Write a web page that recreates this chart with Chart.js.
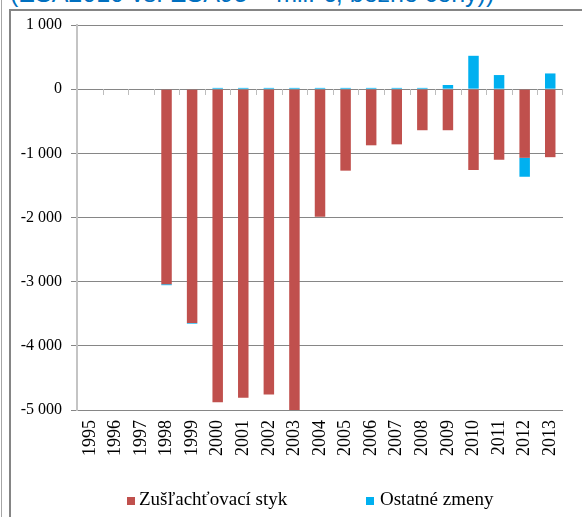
<!DOCTYPE html>
<html>
<head>
<meta charset="utf-8">
<script src="https://cdn.jsdelivr.net/npm/chart.js@4.4.1/dist/chart.umd.min.js"></script>
<style>
  body { margin: 0; background: #fff; }
  #wrap { position: relative; width: 582px; height: 517px; overflow: hidden; background: #fff; }
  #title { position: absolute; left: 10px; top: -19px; font: 25px "Liberation Sans", Arial, sans-serif; line-height: 25px; color: #0070c0; white-space: nowrap; }
  #edge { position: absolute; left: 1px; top: 0; width: 1px; height: 517px; background: #a6a6a6; }
  #frame { position: absolute; left: 9px; top: 9px; right: -5px; bottom: -5px; border-left: 2px solid #858585; border-top: 2px solid #858585; }
  canvas { position: absolute; left: 0; top: 0; }
</style>
</head>
<body>
<div id="wrap">
  <div id="title">(ESA2010 vs. ESA95 + mil. €, bežné ceny))</div>
  <div id="edge"></div>
  <div id="frame"></div>
  <canvas id="chart" width="582" height="517"></canvas>
</div>
<script>
// data (mil. €)
const years = ['1995', '1996', '1997', '1998', '1999', '2000', '2001', '2002', '2003', '2004',
               '2005', '2006', '2007', '2008', '2009', '2010', '2011', '2012', '2013'];
const zuslachtovaciStyk = [0, 0, 0, -3040, -3645, -4880, -4810, -4760, -5000, -1990,
                           -1270, -875, -860, -640, -640, -1260, -1100, -1070, -1060];
const ostatneZmeny = [0, 0, 0, -15, -10, 20, 20, 20, 20, 20,
                      20, 20, 20, 20, 65, 520, 220, -295, 245];
const seriesNames = ['Zušľachťovací styk', 'Ostatné zmeny'];
const yTicks = [1000, 0, -1000, -2000, -3000, -4000, -5000];

const legendBoxX = [127, 366];
const legendTextX = [139, 380];

function fmt(v) {
  return (v < 0 ? '-' : '') + Math.abs(v).toString().replace(/\B(?=(\d{3})+(?!\d))/g, ' ');
}

// small tick marks hanging under the zero line, between categories
const zeroTicks = {
  id: 'zeroTicks',
  afterDatasetsDraw(chart) {
    const ctx = chart.ctx;
    const x = chart.scales.x, y = chart.scales.y;
    const y0 = Math.round(y.getPixelForValue(0));
    ctx.save();
    ctx.strokeStyle = '#bdbdbd';
    ctx.lineWidth = 1;
    for (let i = 1; i <= years.length; i++) {
      let px = i === years.length ? chart.chartArea.right - 1
        : (x.getPixelForValue(i - 1) + x.getPixelForValue(i)) / 2;
      px = Math.round(px) + 0.5;
      ctx.beginPath();
      ctx.moveTo(px, y0);
      ctx.lineTo(px, y0 + 6);
      ctx.stroke();
    }
    ctx.restore();
  }
};

// legend at the bottom, spaced like the original
const bottomLegend = {
  id: 'bottomLegend',
  afterDraw(chart) {
    const ctx = chart.ctx;
    ctx.save();
    ctx.font = '19px "Liberation Serif", "Times New Roman", serif';
    ctx.textBaseline = 'alphabetic';
    chart.data.datasets.forEach((ds, i) => {
      ctx.fillStyle = ds.backgroundColor;
      ctx.fillRect(legendBoxX[i], 497, 8, 8);
      ctx.fillStyle = '#000';
      ctx.fillText(ds.label, legendTextX[i], 505);
    });
    ctx.restore();
  }
};

Chart.defaults.font.family = '"Liberation Serif", "Times New Roman", serif';

const ctx = document.getElementById('chart').getContext('2d');
const chart = new Chart(ctx, {
  type: 'bar',
  data: {
    labels: years,
    datasets: [{
      label: seriesNames[0],
      data: zuslachtovaciStyk,
      backgroundColor: '#c0504d',
      barPercentage: 0.41,
      categoryPercentage: 1.0
    }, {
      label: seriesNames[1],
      data: ostatneZmeny,
      backgroundColor: '#00b0f0',
      barPercentage: 0.41,
      categoryPercentage: 1.0
    }]
  },
  options: {
    responsive: false,
    animation: false,
    layout: { padding: { left: 0, right: 6, top: 25, bottom: 0 } },
    plugins: {
      legend: { display: false },
      tooltip: { enabled: false }
    },
    scales: {
      x: {
        stacked: true,
        afterFit: s => { s.height = 107; },
        grid: { display: false, drawTicks: false },
        border: { display: false },
        ticks: {
          autoSkip: false,
          minRotation: 90,
          maxRotation: 90,
          padding: 10,
          color: '#000',
          font: { size: 18 }
        }
      },
      y: {
        stacked: true,
        min: yTicks[yTicks.length - 1],
        max: yTicks[0],
        afterFit: s => { s.width = 77; },
        afterBuildTicks: s => { s.ticks = yTicks.map(v => ({ value: v })); },
        grid: { color: '#868686', lineWidth: 1, tickLength: 6 },
        border: { display: true, color: '#c4c4c4', width: 2 },
        ticks: {
          padding: 9,
          color: '#000',
          font: { size: 16 },
          callback: v => fmt(v)
        }
      }
    }
  },
  plugins: [zeroTicks, bottomLegend]
});
</script>
</body>
</html>
